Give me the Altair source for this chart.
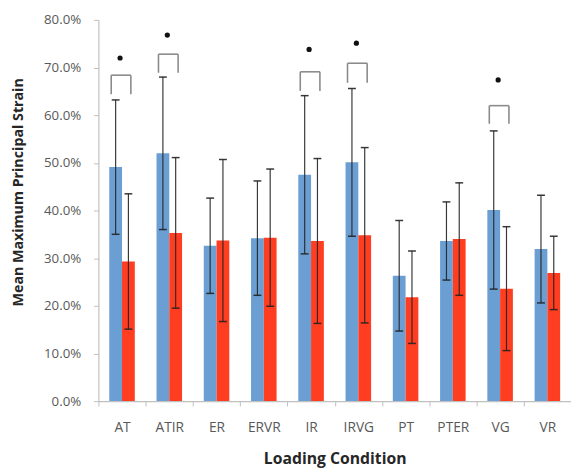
import altair as alt
import pandas as pd

cats = ["AT", "ATIR", "ER", "ERVR", "IR", "IRVG", "PT", "PTER", "VG", "VR"]
series = ["Series 1", "Series 2"]
blue_mean = [49.1, 52.0, 32.6, 34.2, 47.5, 50.1, 26.3, 33.6, 40.1, 31.9]
blue_sd = [14.1, 16.0, 10.0, 12.0, 16.6, 15.5, 11.6, 8.2, 16.6, 11.3]
red_mean = [29.3, 35.3, 33.7, 34.3, 33.6, 34.8, 21.8, 34.0, 23.6, 26.9]
red_sd = [14.2, 15.8, 17.0, 14.4, 17.3, 18.4, 9.7, 11.8, 13.0, 7.7]

sig_cats = ["AT", "ATIR", "IR", "IRVG", "VG"]
bracket_low = [64.4, 68.9, 65.1, 66.8, 58.2]
bracket_high = [68.4, 72.8, 69.1, 70.9, 62.0]
star_y = [72.0, 76.8, 73.8, 75.1, 67.4]

y_ticks = [0, 0.1, 0.2, 0.3, 0.4, 0.5, 0.6, 0.7, 0.8]

rows = []
for i, c in enumerate(cats):
    for s, m, sd in ((series[0], blue_mean[i], blue_sd[i]), (series[1], red_mean[i], red_sd[i])):
        rows.append({"cond": c, "series": s, "mean": m / 100,
                     "lo": (m - sd) / 100, "hi": (m + sd) / 100})
df = pd.DataFrame(rows)

sig = pd.DataFrame({
    "cond": sig_cats,
    "low": [v / 100 for v in bracket_low],
    "high": [v / 100 for v in bracket_high],
    "star": [v / 100 for v in star_y],
})

FONT = "Open Sans"

x_axis = alt.Axis(title="Loading Condition", tickBand="extent", labelAngle=0,
                  labelFontSize=14, tickSize=5, labelPadding=15,
                  titleFontSize=16, titleY=59, titleBaseline="middle")
x = alt.X("cond:N", sort=cats, scale=alt.Scale(paddingInner=0, paddingOuter=0), axis=x_axis)
x_plain = alt.X("cond:N", sort=cats)
xoff = alt.XOffset("series:N", sort=series,
                   scale=alt.Scale(paddingInner=0, paddingOuter=0.85))
y_axis = alt.Axis(title="Mean Maximum Principal Strain", format=".1%", values=y_ticks,
                  grid=False, labelFontSize=13.5, tickSize=5, labelPadding=13,
                  titleFontSize=14.5, titleX=-81, titleY=175, titleAlign="center",
                  titleBaseline="middle")
y = alt.Y("mean:Q", scale=alt.Scale(domain=[0, 0.8]), axis=y_axis)
color = alt.Color("series:N", scale=alt.Scale(domain=series, range=["#6b9fd3", "#fe3d21"]),
                  legend=None)

bars = alt.Chart(df).mark_bar().encode(x=x, xOffset=xoff, y=y, color=color)

ERR = "#222222"
err = alt.Chart(df).mark_rule(color=ERR, strokeWidth=1.2, opacity=0.9).encode(
    x=x_plain, xOffset=xoff, y="lo:Q", y2="hi:Q")
cap_hi = alt.Chart(df).mark_tick(color=ERR, thickness=1.5, size=8, opacity=0.9).encode(
    x=x_plain, xOffset=xoff, y="hi:Q")
cap_lo = alt.Chart(df).mark_tick(color=ERR, thickness=1.5, size=8, opacity=0.9).encode(
    x=x_plain, xOffset=xoff, y="lo:Q")

BR = "#8a8a8a"
br_left = alt.Chart(sig).mark_rule(color=BR, strokeWidth=1.6, xOffset=-11).encode(
    x=x_plain, y="low:Q", y2="high:Q")
br_right = alt.Chart(sig).mark_rule(color=BR, strokeWidth=1.6, xOffset=9).encode(
    x=x_plain, y="low:Q", y2="high:Q")
br_top = alt.Chart(sig).mark_rule(color=BR, strokeWidth=1.6, xOffset=-11, x2Offset=9).encode(
    x=x_plain, x2=alt.X2("cond:N"), y="high:Q")
stars = alt.Chart(sig).mark_circle(color="#111111", size=28, opacity=1, xOffset=-2).encode(
    x=x_plain, y="star:Q")

chart = alt.layer(bars, err, cap_hi, cap_lo, br_left, br_right, br_top, stars).properties(
    width=481, height=388,
    autosize=alt.AutoSizeParams(type="none"),
    padding={"left": 92, "top": 8, "right": 0, "bottom": 64},
).configure_axis(
    labelFont=FONT, labelColor="#595959", titleFont=FONT, titleFontWeight="bold",
    titleColor="#262626", domainColor="#c0c0c0", tickColor="#c0c0c0", domainWidth=1.2,
).configure_view(stroke=None)

chart.save("out.html", embed_options={"renderer": "svg", "actions": False})
